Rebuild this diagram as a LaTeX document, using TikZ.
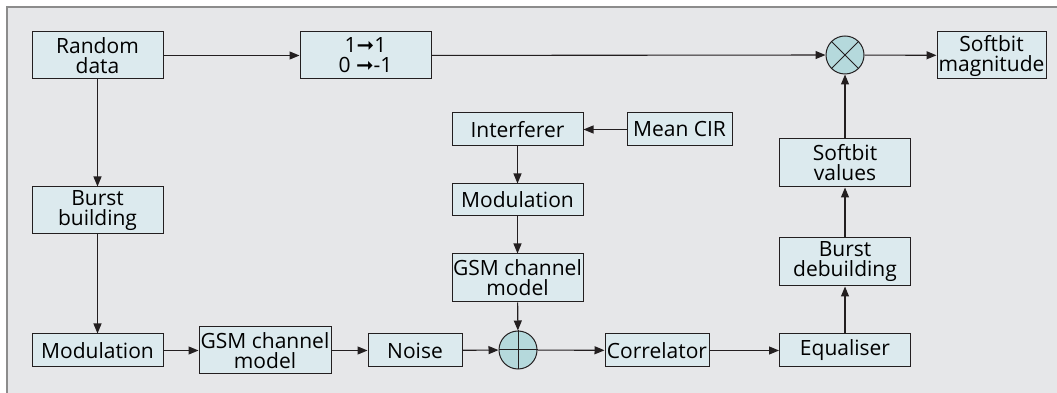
\documentclass[tikz,border=0pt]{standalone}
\usepackage{fontspec}
\setmainfont{Open Sans}
\newfontfamily\symfont{DejaVu Sans}
\usetikzlibrary{arrows.meta}
\definecolor{bgc}{HTML}{E6E7E9}
\definecolor{boxc}{HTML}{DCEAEE}
\definecolor{circc}{HTML}{B5D9DC}
\definecolor{framec}{HTML}{8C8C8C}
\definecolor{linec}{HTML}{231F20}
\tikzset{
  blk/.style={draw=linec, line width=1pt, fill=boxc, inner sep=0pt, align=center,
    font=\fontsize{21}{20}\selectfont},
  opc/.style={draw=linec, line width=1pt, fill=circc, circle, minimum size=38pt, inner sep=0pt},
  arr/.style={draw=linec, line width=1.1pt, -{Triangle[length=10pt,width=8pt]}},
}
\begin{document}
\begin{tikzpicture}[x=1pt,y=1pt]
\useasboundingbox (0,0) rectangle (1057,393);
\fill[white] (0,0) rectangle (1057,393);
\fill[bgc] (7,0) rectangle (1057,386);
\draw[framec, line width=2pt] (7,0) -- (7,386) -- (1057,386);

\node[blk, minimum width=131pt, minimum height=47pt] (rand) at (97.5,337.5) {Random\\data};
\node[blk, minimum width=131pt, minimum height=47pt] (map) at (365.5,337.5) {1{\symfont ➞}1\\0 {\symfont ➞}-1};
\node[opc] (mult) at (845,338) {};
\draw[linec, line width=1pt] (mult.north west) -- (mult.south east) (mult.north east) -- (mult.south west);
\node[blk, minimum width=109pt, minimum height=47pt] (smag) at (991.5,337.5) {Softbit\\magnitude};

\node[blk, minimum width=131pt, minimum height=47pt] (burst) at (97.5,182.5) {Burst\\building};
\node[blk, minimum width=131pt, minimum height=33pt] (mod1) at (97.5,42.5) {Modulation};
\node[blk, minimum width=132pt, minimum height=47pt] (gsm1) at (265,42.5) {GSM channel\\model};
\node[blk, minimum width=94pt, minimum height=33pt] (noise) at (415,42.5) {Noise};
\node[opc] (sum) at (518,43) {};
\draw[linec, line width=1pt] (sum.north) -- (sum.south) (sum.east) -- (sum.west);
\node[blk, minimum width=104pt, minimum height=33pt] (corr) at (657,42.5) {Correlator};
\node[blk, minimum width=131pt, minimum height=33pt] (eq) at (845,42.5) {Equaliser};
\node[blk, minimum width=131pt, minimum height=48pt] (debuild) at (845,131) {Burst\\debuilding};
\node[blk, minimum width=131pt, minimum height=48pt] (sval) at (845,230) {Softbit\\values};

\node[blk, minimum width=131pt, minimum height=33pt] (interf) at (517.5,263.5) {Interferer};
\node[blk, minimum width=105pt, minimum height=33pt] (mcir) at (679.5,263.5) {Mean CIR};
\node[blk, minimum width=131pt, minimum height=32pt] (mod2) at (517.5,193) {Modulation};
\node[blk, minimum width=131pt, minimum height=48pt] (gsm2) at (517.5,115) {GSM channel\\model};

\draw[arr] (rand) -- (map);
\draw[arr] (map) -- (mult);
\draw[arr] (mult) -- (smag);
\draw[arr] (rand) -- (burst);
\draw[arr] (burst) -- (mod1);
\draw[arr] (mod1) -- (gsm1);
\draw[arr] (gsm1) -- (noise);
\draw[arr] (noise) -- (sum);
\draw[arr] (mcir) -- (interf);
\draw[arr] (interf) -- (mod2);
\draw[arr] (mod2) -- (gsm2);
\draw[arr] (gsm2) -- (sum);
\draw[arr] (sum) -- (corr);
\draw[arr] (corr) -- (eq);
\draw[arr] (eq) -- (debuild);
\draw[arr] (debuild) -- (sval);
\draw[arr] (sval) -- (mult);
\end{tikzpicture}
\end{document}
